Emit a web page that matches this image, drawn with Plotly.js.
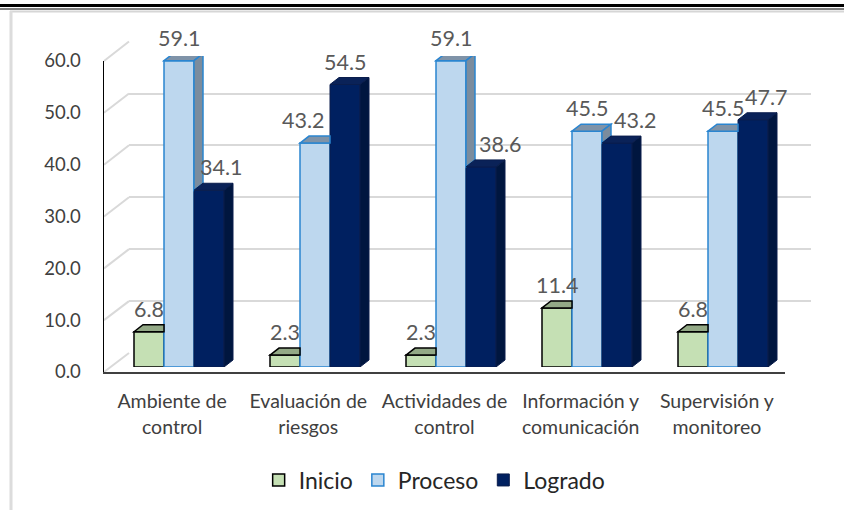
<!DOCTYPE html>
<html><head><meta charset="utf-8">
<script src="https://cdn.plot.ly/plotly-3.0.1.min.js"></script>
<style>html,body{margin:0;padding:0;background:#fff}#chart{width:844px;height:510px}</style>
</head><body><div id="chart"></div>
<script>
// ---- data ----
const categories = ["Ambiente de<br>control", "Evaluación de<br>riesgos", "Actividades de<br>control", "Información y<br>comunicación", "Supervisión y<br>monitoreo"];
const seriesNames = ["Inicio", "Proceso", "Logrado"];
const inicio  = [6.8, 2.3, 2.3, 11.4, 6.8];
const proceso = [59.1, 43.2, 59.1, 45.5, 45.5];
const logrado = [34.1, 54.5, 38.6, 43.2, 47.7];
const yTicks = [0, 10, 20, 30, 40, 50, 60];

// ---- style / layout ----
const W = 844, H = 510;
const FONT = "Lato, 'Open Sans', sans-serif";
const frontPx = {x0: 104, x1: 785, y0: 372, y1: 61};
const barPx   = {x0: 111, x1: 791, y0: 367, y1: 56};
const backPx  = {x0: 129, x1: 811, y0: 353, y1: 41.5};
const dom = p => ({x: [p.x0 / W, p.x1 / W], y: [(H - p.y0) / H, (H - p.y1) / H]});
const dF = dom(frontPx), dB = dom(barPx), dK = dom(backPx);
const yMax = 60;
const catPx = (barPx.x1 - barPx.x0) / categories.length;
const unitPx = (barPx.y0 - barPx.y1) / yMax;
const barW = 30 / catPx;
const dx = 9 / catPx, dy = 7 / unitPx;
const colors = [
  {front: '#C5E0B4', top: '#93A986', side: '#7E9470', line: '#000000', lw: 1.5},
  {front: '#BDD7EE', top: '#7F93A8', side: '#7B8C9D', line: '#2A85D0', lw: 1.5},
  {front: '#002060', top: '#0A2258', side: '#00163F', line: '#0A1D4C', lw: 1}
];
const labelShift = [[0,0,0,0,0],[0,-12,0,0,0],[12,0,19,18,13]];
const vals = [inicio, proceso, logrado];
const xIdx = categories.map((c, i) => i);

// placeholder traces so the back-wall and front-axis subplots are drawn
const traces = [
  {type: 'scatter', x: [], y: [], xaxis: 'x', yaxis: 'y', showlegend: false, hoverinfo: 'skip'},
  {type: 'scatter', x: [], y: [], xaxis: 'x2', yaxis: 'y2', showlegend: false, hoverinfo: 'skip'}
].concat(vals.map((v, s) => ({
  type: 'bar', name: seriesNames[s], x: xIdx, y: v, xaxis: 'x3', yaxis: 'y3',
  marker: {color: colors[s].front, line: {color: colors[s].line, width: colors[s].lw}},
  hoverinfo: 'skip'
})));

const shapes = [];
const annotations = [];
// 3D faces
xIdx.forEach(i => {
  vals.forEach((arr, s) => {
    const v = arr[i];
    const L = i - 1.5 * barW + s * barW, R = L + barW;
    const next = s < vals.length - 1 ? vals[s + 1][i] : null;
    const c = colors[s];
    let top;
    if (next !== null && next >= v) top = `M${L},${v} L${L+dx},${v+dy} L${R},${v+dy} L${R},${v} Z`;
    else top = `M${L},${v} L${L+dx},${v+dy} L${R+dx},${v+dy} L${R},${v} Z`;
    shapes.push({type: 'path', xref: 'x3', yref: 'y3', path: top, fillcolor: c.top, line: {color: c.line, width: c.lw}, layer: 'above'});
    let side = null;
    if (next === null) side = `M${R},0 L${R},${v} L${R+dx},${v+dy} L${R+dx},${dy} Z`;
    else if (next < v) side = `M${R},${next} L${R},${v} L${R+dx},${v+dy} L${R+dx},${next+dy} Z`;
    if (side) shapes.push({type: 'path', xref: 'x3', yref: 'y3', path: side, fillcolor: c.side, line: {color: c.line, width: c.lw}, layer: 'above'});
    annotations.push({xref: 'x3', yref: 'y3', x: L + barW / 2, y: v, text: v.toFixed(1), showarrow: false,
      yanchor: 'middle', xanchor: 'center', yshift: 23, xshift: labelShift[s][i],
      font: {family: FONT, size: 21.5, color: '#595959'}});
  });
});
// left wall diagonals
const yPaper = (d, v) => d.y[0] + v / yMax * (d.y[1] - d.y[0]);
yTicks.forEach(v => {
  shapes.push({type: 'line', xref: 'paper', yref: 'paper', x0: dF.x[0], x1: dK.x[0],
    y0: yPaper(dF, v), y1: yPaper(dK, v), line: {color: '#D9D9D9', width: 2}, layer: 'below'});
});
// page frame lines
shapes.push({type: 'line', xref: 'paper', yref: 'paper', x0: 0, x1: 1, y0: (H - 5.5) / H, y1: (H - 5.5) / H, line: {color: '#000', width: 3}});
shapes.push({type: 'line', xref: 'paper', yref: 'paper', x0: 0, x1: 1, y0: (H - 9) / H, y1: (H - 9) / H, line: {color: '#000', width: 1}});
shapes.push({type: 'line', xref: 'paper', yref: 'paper', x0: 10 / W, x1: 1, y0: (H - 11.5) / H, y1: (H - 11.5) / H, line: {color: '#D6D6D6', width: 2}});
shapes.push({type: 'line', xref: 'paper', yref: 'paper', x0: 11 / W, x1: 11 / W, y0: 0, y1: (H - 11) / H, line: {color: '#DCDCDC', width: 3}});

const layout = {
  width: W, height: H, margin: {l: 0, r: 0, t: 0, b: 0},
  paper_bgcolor: '#fff', plot_bgcolor: 'rgba(0,0,0,0)',
  font: {family: FONT, color: '#404040'},
  barmode: 'group', bargap: 1 - 3 * barW, bargroupgap: 0,
  // back wall (gridlines)
  xaxis: {domain: dK.x, range: [-0.5, 4.5], anchor: 'y', showgrid: false, showticklabels: false, showline: false, zeroline: false, ticks: '', fixedrange: true},
  yaxis: {domain: dK.y, range: [-0.05, yMax + 0.05], anchor: 'x', tickvals: yTicks, showgrid: true, gridcolor: '#D9D9D9', gridwidth: 2,
          showticklabels: false, showline: false, zeroline: false, ticks: '', fixedrange: true},
  // front plane (axis lines and labels)
  xaxis2: {domain: dF.x, range: [-0.5, 4.5], anchor: 'y2', tickvals: xIdx, ticktext: categories, showgrid: false, zeroline: false,
           showline: true, linecolor: '#404040', linewidth: 2, ticks: 'outside', ticklen: 11, tickcolor: 'rgba(0,0,0,0)',
           tickfont: {family: FONT, size: 19.5, color: '#404040'}, fixedrange: true},
  yaxis2: {domain: dF.y, range: [0, yMax], anchor: 'x2', tickvals: yTicks, ticktext: yTicks.map(v => v.toFixed(1)),
           showgrid: false, zeroline: false, showline: true, linecolor: '#000', linewidth: 1.5,
           ticks: 'outside', ticklen: 18, tickcolor: 'rgba(0,0,0,0)', tickfont: {family: FONT, size: 18.5, color: '#404040'}, fixedrange: true},
  // bar plane
  xaxis3: {domain: dB.x, range: [-0.5, 4.5], anchor: 'y3', visible: false, fixedrange: true},
  yaxis3: {domain: dB.y, range: [0, yMax], anchor: 'x3', visible: false, fixedrange: true},
  showlegend: true,
  legend: {orientation: 'h', x: 0.515, xanchor: 'center', y: (H - 480) / H, yanchor: 'middle',
           font: {family: FONT, size: 23, color: '#262626'}, bgcolor: 'rgba(0,0,0,0)'},
  shapes: shapes, annotations: annotations
};
Plotly.newPlot('chart', traces, layout, {displayModeBar: false, staticPlot: true});
</script></body></html>
